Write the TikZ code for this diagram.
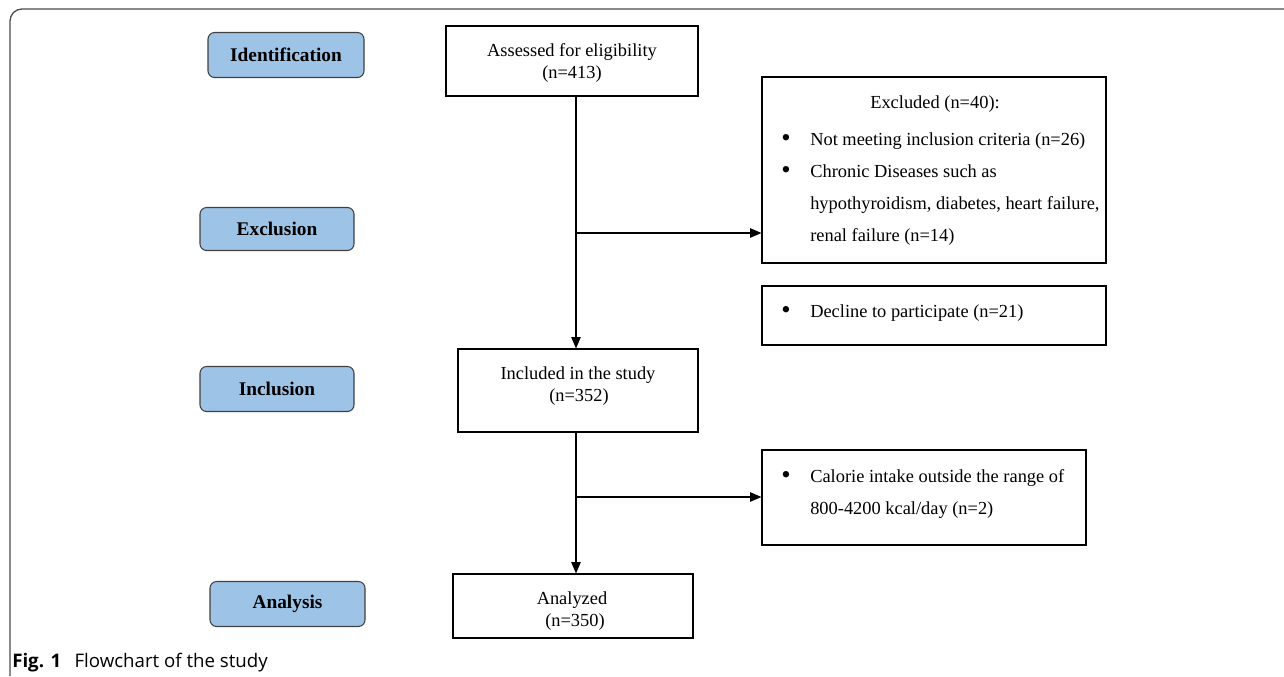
\documentclass[tikz,border=0pt]{standalone}
\usepackage{fontspec}
\setmainfont{Liberation Serif}
\newfontfamily\capfont{Open Sans}
\usetikzlibrary{arrows.meta, positioning}
\definecolor{stageblue}{HTML}{9DC3E6}

\begin{document}
\begin{tikzpicture}[x=0.75pt, y=-0.75pt,
    stage/.style={draw=black!75, fill=stageblue, rounded corners=5pt, line width=0.8pt, font=\fontsize{14.5}{17}\selectfont\bfseries},
    box/.style={draw=black, line width=0.8pt},
    txt/.style={inner sep=0pt, anchor=base, font=\fontsize{13.8}{16}\selectfont},
    item/.style={txt, anchor=base west},
    dot/.style={txt, font=\fontsize{20}{20}\selectfont},
    flow/.style={-{Triangle[length=8.5pt,width=7pt]}, line width=1pt}
]
\useasboundingbox (0,0) rectangle (1284,676);

% outer frame
\draw[black!70, line width=1pt, rounded corners=9pt] (10,676) -- (10,9) -- (1284,9);

% stages on the left
\node[stage, minimum width=117pt, minimum height=33.75pt] (ident) at (286,55) {Identification};
\node[stage, minimum width=115.5pt, minimum height=32.25pt] (exclu) at (277,229) {Exclusion};
\node[stage, minimum width=115.5pt, minimum height=33.75pt] (inclu) at (277,389) {Inclusion};
\node[stage, minimum width=116.25pt, minimum height=33.75pt] (analy) at (287.5,604) {Analysis};

% boxes
\node[box, minimum width=189pt, minimum height=52.5pt] (assess) at (572,61) {};
\node[box, minimum width=258pt, minimum height=139.5pt] (excl) at (934,170) {};
\node[box, minimum width=258pt, minimum height=44.25pt] (decline) at (934,315.5) {};
\node[box, minimum width=180pt, minimum height=62.25pt] (incl) at (578,390.5) {};
\node[box, minimum width=243pt, minimum height=71.25pt] (calorie) at (924,497.5) {};
\node[box, minimum width=180pt, minimum height=48pt] (analyzed) at (573,606) {};

% texts
\node[txt] (assess1) at (572,56) {Assessed for eligibility};
\node[txt] (assess2) at (572,78) {(n=413)};
\node[txt] (excl0) at (935,108) {Excluded (n=40):};
\node[dot] (bul1) at (786,146) {\textbullet};
\node[item] (excl1) at (810,145) {Not meeting inclusion criteria (n=26)};
\node[dot] (bul2) at (786,178) {\textbullet};
\node[item] (excl2) at (810,177) {Chronic Diseases such as};
\node[item] (excl3) at (810,209) {hypothyroidism, diabetes, heart failure,};
\node[item] (excl4) at (810,241) {renal failure (n=14)};
\node[dot] (bul3) at (786,318) {\textbullet};
\node[item] (decl1) at (810,317) {Decline to participate (n=21)};
\node[txt] (incl1) at (578,379) {Included in the study};
\node[txt] (incl2) at (579,401) {(n=352)};
\node[dot] (bul4) at (786,483) {\textbullet};
\node[item] (cal1) at (810,482) {Calorie intake outside the range of};
\node[item] (cal2) at (810,514) {800-4200 kcal/day (n=2)};
\node[txt] (anal1) at (572,604) {Analyzed};
\node[txt] (anal2) at (575,626) {(n=350)};

% connectors
\coordinate (j1) at (576,233);
\coordinate (j2) at (576,497);
\draw[flow] (assess.south -| j1) -- (incl.north -| j1);
\draw[flow] (j1) -- (excl.west |- j1);
\draw[flow] (incl.south -| j2) -- (analyzed.north -| j2);
\draw[flow] (j2) -- (calorie.west |- j2);

% caption
\node[anchor=base west, inner sep=0pt, font=\capfont\fontsize{14}{16}\selectfont] (caption) at (12,667) {\textbf{Fig. 1}\hspace{10pt}Flowchart of the study};
\end{tikzpicture}
\end{document}
